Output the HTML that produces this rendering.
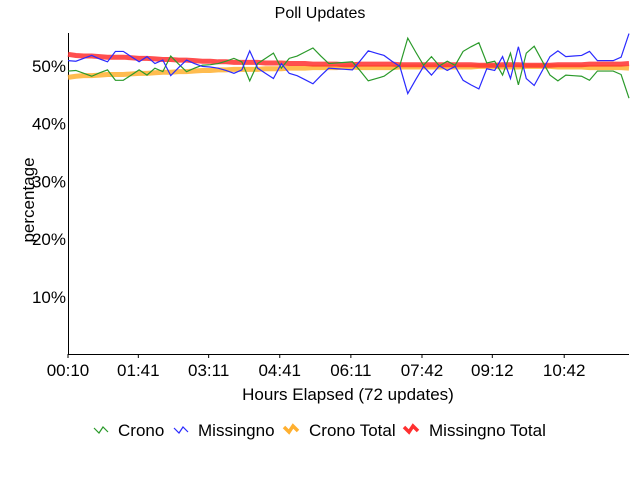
<!DOCTYPE html>
<html><head><meta charset="utf-8"><style>
html,body{margin:0;padding:0;background:#fff;}
svg{display:block;font-family:"Liberation Sans Narrow","Liberation Sans",sans-serif;}
</style></head><body>
<svg id="chart" width="640" height="480">
<text x="320" y="18" text-anchor="middle" font-size="16">Poll Updates</text>
<text transform="translate(34,200) rotate(-90)" text-anchor="middle" font-size="17">percentage</text>
<text x="348" y="400" text-anchor="middle" font-size="17">Hours Elapsed (72 updates)</text>
<g id="plot"></g>
<g id="legend">
 <g><polyline points="94,428 99,433 103,427 108,432" fill="none" stroke="#2a9a2a" stroke-width="1.2"/><text x="118" y="436" font-size="17">Crono</text></g>
 <g><polyline points="174,428 179,433 183,427 188,432" fill="none" stroke="#2a2aff" stroke-width="1.2"/><text x="198" y="436" font-size="17">Missingno</text></g>
 <g><polyline points="284,427 289,432 293,426 298,431" fill="none" stroke="#ffb030" stroke-width="3.5"/><text x="309" y="436" font-size="17">Crono Total</text></g>
 <g><polyline points="404,427 409,432 413,426 418,431" fill="none" stroke="#ff3030" stroke-width="3.5"/><text x="429" y="436" font-size="17">Missingno Total</text></g>
</g>
</svg>
<script>
const crono = [49.1,49.2,48.7,48.2,48.8,49.3,47.5,47.5,48.4,49.3,48.4,49.6,49.0,51.7,50.3,49.0,49.6,50.1,50.2,50.4,50.8,51.3,50.7,47.4,50.4,51.3,52.2,49.6,51.3,51.7,52.4,53.1,51.7,50.4,50.5,50.6,50.7,49.1,47.4,47.8,48.2,49.2,50.1,54.8,52.4,50.1,51.6,50.0,50.8,50.1,52.5,53.3,54.0,50.5,50.8,48.4,52.2,46.7,52.2,53.4,50.9,48.4,47.4,48.4,48.3,48.2,47.5,49.1,49.1,49.1,48.5,44.4];
const missingno = crono.map(v => 100 - v);
const cronoTotal = [48.0,48.2,48.3,48.3,48.4,48.5,48.5,48.5,48.6,48.7,48.7,48.8,48.9,48.9,49.0,49.0,49.1,49.2,49.2,49.3,49.3,49.4,49.4,49.4,49.4,49.5,49.5,49.5,49.6,49.6,49.6,49.7,49.7,49.7,49.7,49.8,49.8,49.7,49.7,49.7,49.7,49.7,49.8,49.8,49.8,49.8,49.8,49.8,49.8,49.8,49.8,49.8,49.9,49.9,49.9,49.8,49.8,49.8,49.9,49.9,49.9,49.9,49.8,49.8,49.8,49.8,49.7,49.7,49.7,49.7,49.7,49.6];
const missingnoTotal = cronoTotal.map(v => 100 - v);
const yTicks = [10,20,30,40,50];
const xTickIdx = [0,8.9,17.8,26.8,35.8,44.8,53.7,62.8];
const xTickLabels = ["00:10","01:41","03:11","04:41","06:11","07:42","09:12","10:42"];

const NS = "http://www.w3.org/2000/svg";
const X0 = 68, X1 = 629, Y0 = 354.6, PX = 5.775;
const xs = i => X0 + i * (X1 - X0) / (crono.length - 1);
const ys = v => Y0 - v * PX;
const plot = document.getElementById('plot');
function mk(tag, attrs){const e=document.createElementNS(NS,tag);for(const k in attrs)e.setAttribute(k,attrs[k]);plot.appendChild(e);return e;}

yTicks.forEach(t => {
  const tx = mk('text',{x:66,y:ys(t)+6,'text-anchor':'end','font-size':17});
  tx.textContent = t + '%';
  
  
});
xTickIdx.forEach((ix, k) => {
  const ln = mk('line',{x1:xs(ix),x2:xs(ix),y1:354,y2:358,stroke:'#000'});
  
  
  const tx = mk('text',{x:xs(ix),y:376,'text-anchor':'middle','font-size':17});
  tx.textContent = xTickLabels[k];
  
  
});
const ax = mk('path',{d:`M68.5 33 V354.5 H629`,fill:'none',stroke:'#000','stroke-width':1});



function series(arr, color, w, name){
  const p = mk('polyline',{points:arr.map((v,i)=>xs(i)+','+ys(v)).join(' '),fill:'none',stroke:color,'stroke-width':w,'stroke-opacity':w>2?0.85:1});
  
  
}
series(cronoTotal,'#ffb030',5,'crono-total-line');
series(missingnoTotal,'#ff3030',5,'missingno-total-line');
series(crono,'#2a9a2a',1.2,'crono-line');
series(missingno,'#2a2aff',1.2,'missingno-line');
</script>
</body></html>
